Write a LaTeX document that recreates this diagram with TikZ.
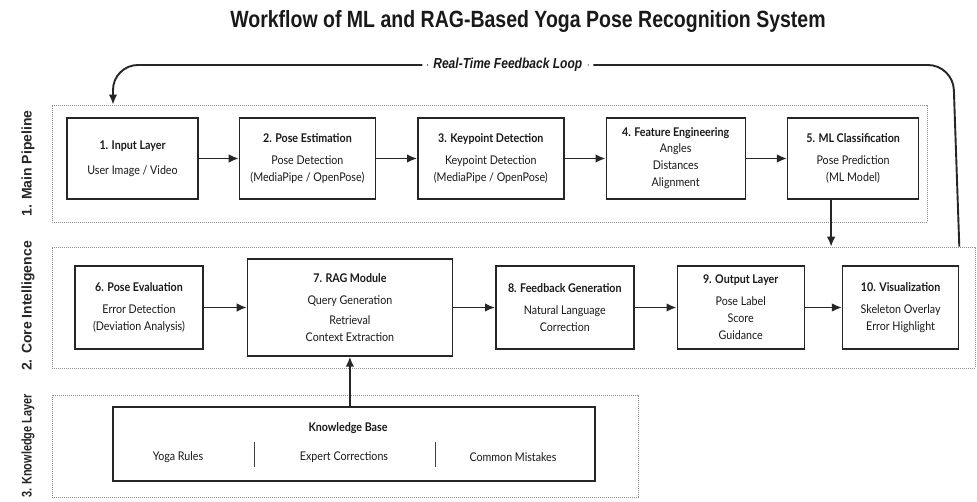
\documentclass[tikz,border=0pt]{standalone}
\usepackage{fontspec}
\setmainfont[FakeStretch=0.89]{Lato}
\newfontfamily\headfont[FakeStretch=0.83]{Liberation Sans}
\newfontfamily\lanefont{Liberation Sans}
\usetikzlibrary{positioning,arrows.meta}

\begin{document}
\begin{tikzpicture}[
    x=1pt, y=-1pt,
    node distance=41pt,
    stage/.style={draw=black!85, line width=1.4pt, fill=white, minimum height=81pt, align=center, inner sep=2pt, text=black!90, font=\fontsize{12}{17}\selectfont},
    lane/.style={draw=black!45, dash pattern=on 0.8pt off 1.2pt, line width=0.6pt, inner sep=0pt},
    lanelabel/.style={rotate=90, text=black!85, font=\lanefont\bfseries\fontsize{14}{16}\selectfont},
    item/.style={text=black!90, font=\fontsize{12}{14}\selectfont},
    arrow/.style={-{Latex[length=10pt,width=8.5pt]}, line width=1.7pt, black!85}
]
\path[fill=white, use as bounding box] (0,0) rectangle (977,502);

\node[anchor=base, text=black!90, font=\headfont\bfseries\fontsize{23.5}{28}\selectfont] (title) at (528,28) {Workflow of ML and RAG-Based Yoga Pose Recognition System};

\node[lane, minimum width=875pt, minimum height=117pt] (mainlane) at (489.5,163.5) {};
\node[lane, minimum width=923pt, minimum height=121pt] (corelane) at (513.5,307.5) {};
\node[lane, minimum width=586pt, minimum height=102pt] (kblane) at (345,446) {};

\node[lanelabel] (mainlabel) at (28,163.5) {1. Main Pipeline};
\node[lanelabel] (corelabel) at (28,306) {2. Core Intelligence};
\node[lanelabel] (kblabel) at (28,446) {\scalebox{0.78}[1]{3. Knowledge Layer}};

\node[stage, minimum width=131pt] (input) at (132.5,158.5) {\textbf{1. Input Layer}\\[8pt]User Image / Video};
\node[stage, minimum width=136pt, right=40pt of input] (poseest) {\textbf{2. Pose Estimation}\\[5pt]Pose Detection\\(MediaPipe / OpenPose)};
\node[stage, minimum width=146pt, right=of poseest] (keypt) {\textbf{3. Keypoint Detection}\\[5pt]Keypoint Detection\\(MediaPipe / OpenPose)};
\node[stage, minimum width=139pt, right=of keypt] (feateng) {\textbf{4. Feature Engineering}\\[-1pt]Angles\\Distances\\Alignment};
\node[stage, minimum width=131pt, right=of feateng] (mlclass) {\textbf{5. ML Classification}\\[5pt]Pose Prediction\\(ML Model)};

\node[stage, minimum width=128pt, minimum height=83pt] (poseeval) at (139,307.5) {\textbf{6. Pose Evaluation}\\[5pt]Error Detection\\(Deviation Analysis)};
\node[stage, minimum width=205pt, minimum height=97pt, right=43pt of poseeval] (rag) {\textbf{7. RAG Module}\\[5pt]Query Generation\\[3pt]Retrieval\\Context Extraction};
\node[stage, minimum width=138pt, minimum height=83pt, right=42pt of rag] (fbgen) {\textbf{8. Feedback Generation}\\[5pt]Natural Language\\Correction};
\node[stage, minimum width=127pt, minimum height=83pt, right=42pt of fbgen] (outlayer) {\textbf{9. Output Layer}\\[5pt]Pose Label\\Score\\Guidance};
\node[stage, minimum width=116pt, minimum height=83pt, right=37pt of outlayer] (viz) {\textbf{10. Visualization}\\[5pt]Skeleton Overlay\\Error Highlight};

\node[stage, minimum width=482pt, minimum height=74pt] (kb) at (354,444) {};
\node[item] (kbtitle) at (348,428) {\textbf{Knowledge Base}};
\node[item] (rules) at (178,457) {Yoga Rules};
\node[item] (expert) at (344,457) {Expert Corrections};
\node[item] (mistakes) at (513,457) {Common Mistakes};
\draw[line width=1pt, black!75] (254,442) -- (254,467);
\draw[line width=1pt, black!75] (435,442) -- (435,467);

\draw[arrow] (input) -- (poseest);
\draw[arrow] (poseest) -- (keypt);
\draw[arrow] (keypt) -- (feateng);
\draw[arrow] (feateng) -- (mlclass);
\draw[arrow] ([xshift=-22pt]mlclass.south) -- ([xshift=-22pt]mlclass.south |- corelane.north);
\draw[arrow] (poseeval) -- (rag);
\draw[arrow] (rag) -- (fbgen);
\draw[arrow] (fbgen) -- (outlayer);
\draw[arrow] (outlayer) -- (viz);
\draw[arrow] (kb.north -| rag.south) -- (rag.south);

\coordinate (loopR) at (953,65);
\coordinate (loopL) at (113,65);
\draw[arrow, line width=1.9pt, rounded corners=25pt] (viz.east |- corelane.north) -- (loopR) -- node[pos=0.53, fill=white, inner xsep=11pt, text=black!90, font=\headfont\bfseries\itshape\fontsize{14.5}{16}\selectfont] (looplabel) {Real-Time Feedback Loop} (loopL) -- (loopL |- mainlane.north);
\end{tikzpicture}
\end{document}
